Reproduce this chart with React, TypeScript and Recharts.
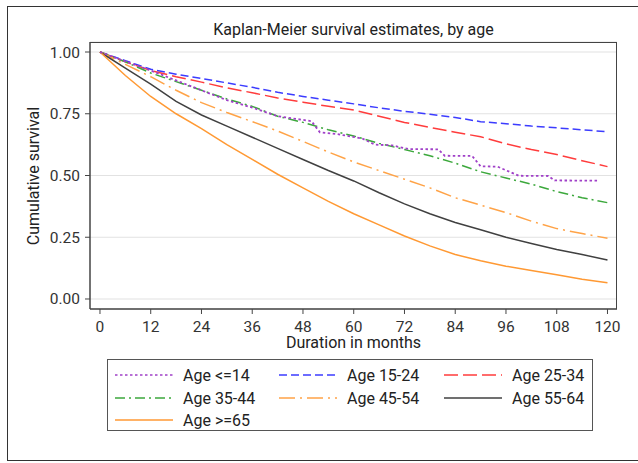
import { LineChart, Line, XAxis, YAxis, CartesianGrid } from 'recharts';

// survival estimates read at 6-month steps
const months = [0, 6, 12, 18, 24, 30, 36, 42, 48, 54, 60, 66, 72, 78, 84, 90, 96, 102, 108, 114, 120];
const age1524 = [1, 0.965, 0.93, 0.91, 0.893, 0.875, 0.857, 0.837, 0.82, 0.805, 0.79, 0.774, 0.76, 0.748, 0.735, 0.718, 0.71, 0.7, 0.693, 0.685, 0.677];
const age2534 = [1, 0.96, 0.925, 0.9, 0.878, 0.855, 0.835, 0.814, 0.797, 0.78, 0.765, 0.74, 0.715, 0.695, 0.675, 0.657, 0.628, 0.605, 0.585, 0.56, 0.536];
const age3544 = [1, 0.96, 0.915, 0.88, 0.845, 0.81, 0.78, 0.74, 0.715, 0.685, 0.66, 0.63, 0.605, 0.58, 0.55, 0.515, 0.49, 0.465, 0.435, 0.41, 0.39];
const age4554 = [1, 0.95, 0.9, 0.845, 0.795, 0.755, 0.718, 0.68, 0.638, 0.595, 0.555, 0.52, 0.485, 0.45, 0.41, 0.38, 0.35, 0.315, 0.285, 0.265, 0.246];
const age5564 = [1, 0.935, 0.87, 0.8, 0.745, 0.7, 0.655, 0.61, 0.565, 0.52, 0.478, 0.43, 0.385, 0.345, 0.31, 0.28, 0.25, 0.225, 0.2, 0.18, 0.158];
const age65 = [1, 0.905, 0.82, 0.75, 0.69, 0.625, 0.565, 0.505, 0.45, 0.395, 0.345, 0.3, 0.255, 0.215, 0.18, 0.155, 0.133, 0.115, 0.098, 0.08, 0.066];

// the <=14 group is small, so its curve has visible steps
const le14Months = [0, 6, 12, 18, 24, 30, 36, 42, 48, 50, 52, 56, 62, 65, 69, 73, 80, 81.5, 88, 90, 94, 99, 106, 107.5, 118];
const le14Values = [1, 0.962, 0.925, 0.885, 0.845, 0.805, 0.775, 0.74, 0.725, 0.72, 0.675, 0.668, 0.65, 0.625, 0.622, 0.607, 0.606, 0.58, 0.579, 0.537, 0.536, 0.499, 0.498, 0.48, 0.479];

const xTicks = [0, 12, 24, 36, 48, 60, 72, 84, 96, 108, 120];
const yTicks = [0, 0.25, 0.5, 0.75, 1];

const series = [
  { key: 'le14', label: 'Age <=14', color: '#a040c8', dash: '2.5 2.5' },
  { key: 'a1524', label: 'Age 15-24', color: '#3c3cff', dash: '8 4' },
  { key: 'a2534', label: 'Age 25-34', color: '#ff3c3c', dash: '14 5' },
  { key: 'a3544', label: 'Age 35-44', color: '#3ca83c', dash: '10 4 2 4' },
  { key: 'a4554', label: 'Age 45-54', color: '#ffa347', dash: '16 5 2 5' },
  { key: 'a5564', label: 'Age 55-64', color: '#404040', dash: undefined },
  { key: 'a65', label: 'Age >=65', color: '#ff9933', dash: undefined },
];

const tableData = months.map((m, i) => ({
  month: m,
  a1524: age1524[i],
  a2534: age2534[i],
  a3544: age3544[i],
  a4554: age4554[i],
  a5564: age5564[i],
  a65: age65[i],
}));
const le14Data = le14Months.map((m, i) => ({ month: m, le14: le14Values[i] }));

const font = 'Roboto, "Noto Sans", sans-serif';
const tickStyle = { fill: '#333', fontSize: 15.5, fontFamily: font };

function KMLegend() {
  const colX = [114, 278, 443];
  const rowY = [374, 397, 419];
  return (
    <div style={{ position: 'absolute', left: 107, top: 359, width: 486, height: 72, border: '1px solid #555', boxSizing: 'border-box' }}>
      <svg width={486} height={72} style={{ position: 'absolute', left: 0, top: 0 }}>
        {series.map((s, i) => {
          const x = colX[i % 3] - 107;
          const y = rowY[Math.floor(i / 3)] - 359;
          return (
            <g key={s.key}>
              <line x1={x} x2={x + 58} y1={y} y2={y} stroke={s.color} strokeWidth={1.5} strokeDasharray={s.dash} />
              <text x={x + 68} y={y} dominantBaseline="central" fontSize={16} fontFamily={font} fill="#222">{s.label}</text>
            </g>
          );
        })}
      </svg>
    </div>
  );
}

export default function App() {
  return (
    <div style={{ position: 'absolute', left: 0, top: 0, width: 638, height: 463, overflow: 'hidden', background: '#fff', fontFamily: font }}>
      <div style={{ position: 'absolute', left: 7, top: 6, width: 660, height: 455, border: '1.5px solid #333', boxSizing: 'border-box' }} />
      <div style={{ position: 'absolute', left: 90, width: 527, top: 20, textAlign: 'center', fontSize: 16, color: '#222', lineHeight: '19px' }}>
        Kaplan-Meier survival estimates, by age
      </div>
      <div style={{ position: 'absolute', left: 0, top: 0 }}>
        <LineChart width={638} height={463} data={tableData} margin={{ top: 42, right: 21, left: 30, bottom: 114 }}>
          <CartesianGrid vertical={false} stroke="#e2e2e2" strokeWidth={1.2} />
          <XAxis
            dataKey="month"
            type="number"
            domain={[-2.36, 122.25]}
            ticks={xTicks}
            allowDataOverflow
            height={40}
            tick={tickStyle}
            tickSize={5}
            tickMargin={7}
            axisLine={{ stroke: '#444', strokeWidth: 1.5 }}
            tickLine={{ stroke: '#444' }}
            label={{ value: 'Duration in months', position: 'insideBottom', offset: 1, fill: '#222', fontSize: 16, fontFamily: font }}
          />
          <YAxis
            type="number"
            domain={[-0.0405, 1.0405]}
            ticks={yTicks}
            allowDataOverflow
            width={60}
            tick={tickStyle}
            tickSize={5}
            tickMargin={5}
            tickFormatter={(v: number) => v.toFixed(2)}
            axisLine={{ stroke: '#444', strokeWidth: 1.5 }}
            tickLine={{ stroke: '#444' }}
            label={{
              content: () => (
                <text x={33} y={176} transform="rotate(-90 33 176)" textAnchor="middle" dominantBaseline="central" fontSize={16} fontFamily={font} fill="#222">
                  Cumulative survival
                </text>
              ),
            }}
          />
          {series.slice(1).map((s) => (
            <Line key={s.key} dataKey={s.key} stroke={s.color} strokeWidth={1.5} strokeDasharray={s.dash} dot={false} type="linear" isAnimationActive={false} />
          ))}
          <Line data={le14Data} dataKey="le14" stroke="#a040c8" strokeWidth={1.8} strokeDasharray="2.5 2.5" dot={false} type="linear" isAnimationActive={false} />
        </LineChart>
      </div>
      <div style={{ position: 'absolute', left: 90, top: 42, width: 527, height: 267, border: '1.5px solid #444', borderLeft: 'none', borderBottom: 'none', boxSizing: 'border-box', pointerEvents: 'none' }} />
      <KMLegend />
    </div>
  );
}
